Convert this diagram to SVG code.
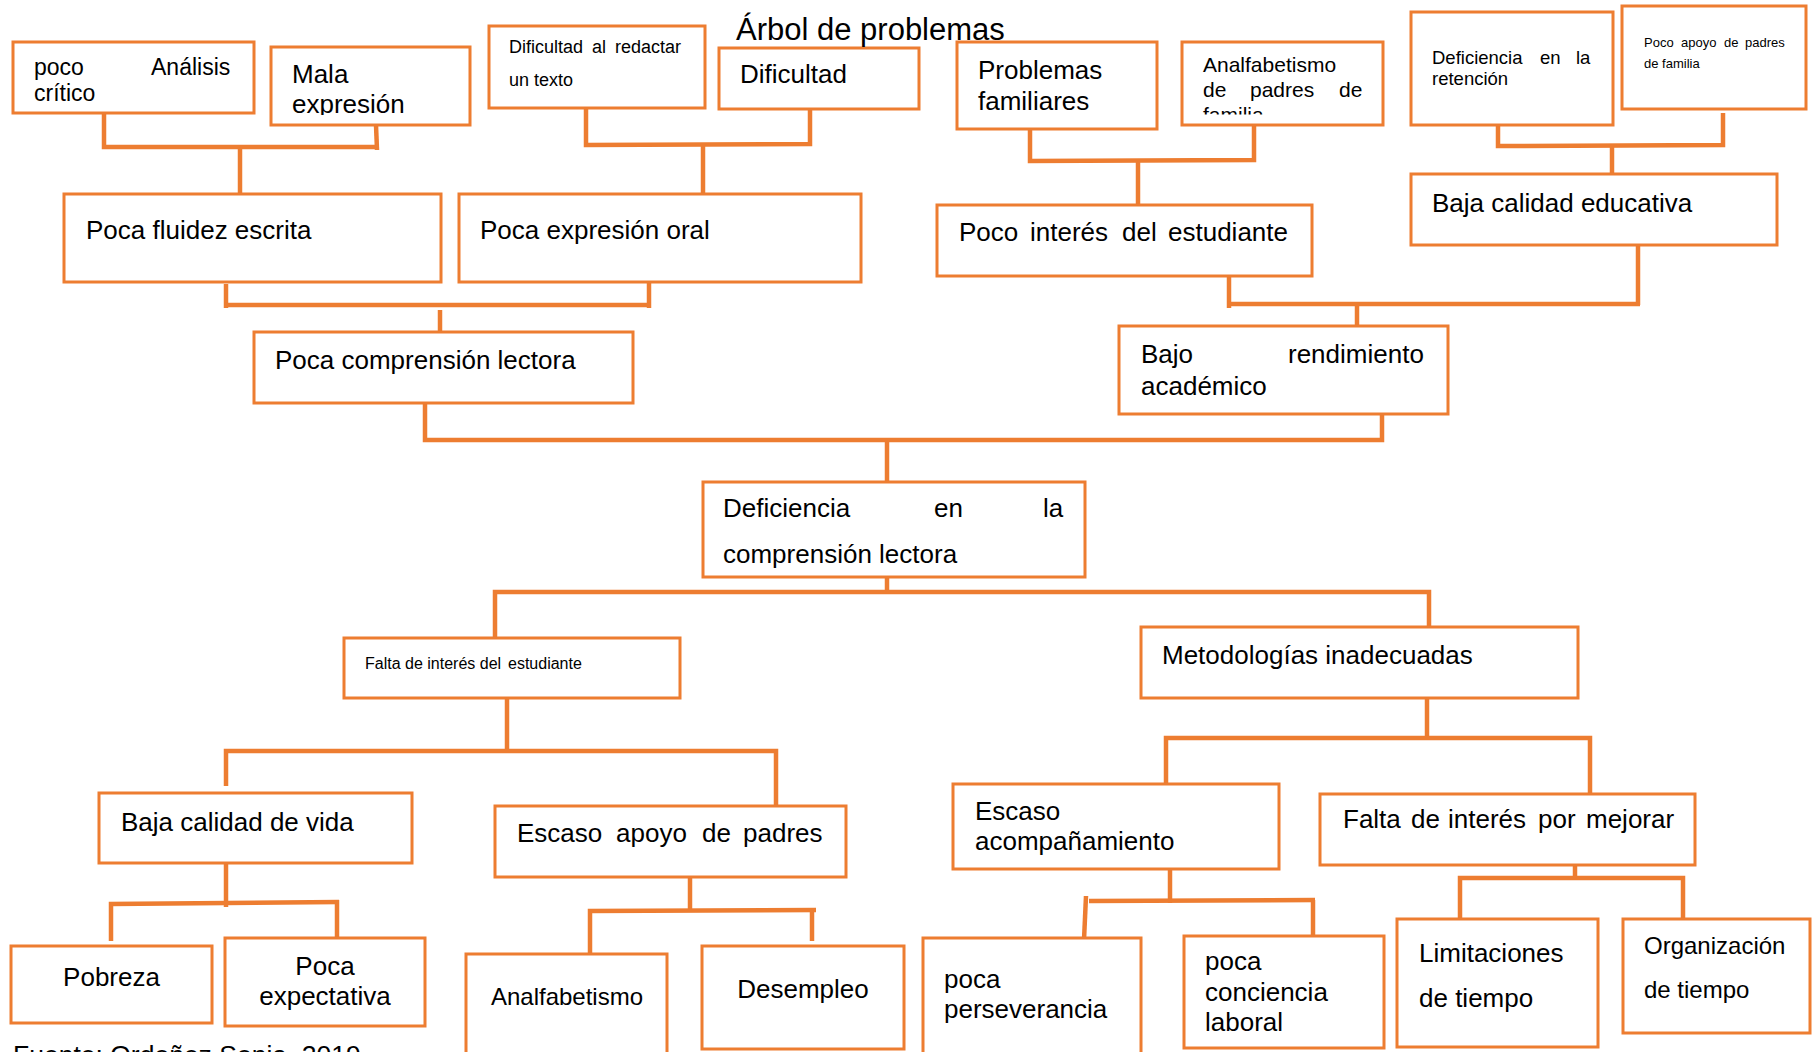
<svg xmlns="http://www.w3.org/2000/svg" width="1815" height="1052" viewBox="0 0 1815 1052">
<style>
.box{fill:#fff;stroke:#ED7D31;stroke-width:3}
.ln{fill:none;stroke:#ED7D31;stroke-width:4.5}
text{font-family:"Liberation Sans",Arial,sans-serif;fill:#000;font-size:26px}
.s23{font-size:23px}
.s21{font-size:21px}
.s18{font-size:18px}
.s185{font-size:18.5px}
.s16{font-size:16px}
.s13{font-size:13px}
.s24{font-size:24px}
.mid{text-anchor:middle}
</style>
<defs>
<clipPath id="clipMala"><rect x="271" y="47" width="199" height="68"/></clipPath>
<clipPath id="clipAnalf"><rect x="1182" y="42" width="201" height="72.5"/></clipPath>
</defs>
<rect width="1815" height="1052" fill="#fff"/>
<g id="connectors">
<path class="ln" d="M104,113 V147 H377"/>
<path class="ln" d="M376,125 L377,150"/>
<path class="ln" d="M240,147 V194"/>
<path class="ln" d="M586,109 V145 L810,144 V109"/>
<path class="ln" d="M703,144 V194"/>
<path class="ln" d="M1030,129 V161 L1254,160 V125"/>
<path class="ln" d="M1138,161 V205"/>
<path class="ln" d="M1498,100 V146 L1723,145 V113"/>
<path class="ln" d="M1612,146 V174"/>
<path class="ln" d="M226,284 V308"/>
<path class="ln" d="M649,282 V308"/>
<path class="ln" d="M224,305 H651"/>
<path class="ln" d="M440,310 V331"/>
<path class="ln" d="M1229,276 V308"/>
<path class="ln" d="M1227,304 H1640"/>
<path class="ln" d="M1638,245 V305"/>
<path class="ln" d="M1357,304 V343"/>
<path class="ln" d="M425,403 V440 H1382 V414"/>
<path class="ln" d="M887,440 V482"/>
<path class="ln" d="M887,577 V592"/>
<path class="ln" d="M495,638 V592 H1429 V627"/>
<path class="ln" d="M507,698 V751"/>
<path class="ln" d="M226,786 V751 H776 V806"/>
<path class="ln" d="M1427,698 V738"/>
<path class="ln" d="M1166,784 V738 H1590 V794"/>
<path class="ln" d="M226,863 V907"/>
<path class="ln" d="M111,941 V904 L339,902"/>
<path class="ln" d="M337,900 V941"/>
<path class="ln" d="M690,877 V911"/>
<path class="ln" d="M590,954 V911 L816,910"/>
<path class="ln" d="M812,910 V941"/>
<path class="ln" d="M1170,869 V903"/>
<path class="ln" d="M1089,901 L1315,900"/>
<path class="ln" d="M1086,896 L1084,940"/>
<path class="ln" d="M1313,900 V937"/>
<path class="ln" d="M1575,860 V878"/>
<path class="ln" d="M1460,919 V878 H1683 V919"/>
</g>
<g id="n-poco-analisis">
<rect class="box" x="13" y="42" width="241" height="71"/>
<text class="s23" y="75"><tspan x="34">poco</tspan><tspan x="151">Análisis</tspan></text>
<text class="s23" x="34" y="101">crítico</text>
</g>
<g id="n-mala-expresion">
<rect class="box" x="271" y="47" width="199" height="78"/>
<g clip-path="url(#clipMala)">
<text x="292" y="83">Mala</text>
<text x="292" y="113">expresión</text>
</g>
</g>
<g id="n-dificultad-redactar">
<rect class="box" x="489" y="26" width="216" height="82"/>
<text class="s18" y="53"><tspan x="509">Dificultad</tspan><tspan x="592">al</tspan><tspan x="615">redactar</tspan></text>
<text class="s18" x="509" y="86">un texto</text>
</g>
<g id="n-dificultad">
<rect class="box" x="719" y="48" width="200" height="61"/>
<text x="740" y="83">Dificultad</text>
</g>
<g id="n-title">
<text x="736" y="40" style="font-size:31px">Árbol de problemas</text>
</g>
<g id="n-problemas-familiares">
<rect class="box" x="957" y="42" width="200" height="87"/>
<text x="978" y="79">Problemas</text>
<text x="978" y="110">familiares</text>
</g>
<g id="n-analfabetismo-padres">
<rect class="box" x="1182" y="42" width="201" height="83"/>
<g clip-path="url(#clipAnalf)">
<text class="s21" x="1203" y="72">Analfabetismo</text>
<text class="s21" y="97"><tspan x="1203">de</tspan><tspan x="1250">padres</tspan><tspan x="1339">de</tspan></text>
<text class="s21" x="1203" y="122">familia</text>
</g>
</g>
<g id="n-deficiencia-retencion">
<rect class="box" x="1411" y="12" width="202" height="113"/>
<text class="s185" y="64"><tspan x="1432">Deficiencia</tspan><tspan x="1540">en</tspan><tspan x="1576">la</tspan></text>
<text class="s185" x="1432" y="85">retención</text>
</g>
<g id="n-poco-apoyo">
<rect class="box" x="1622" y="6" width="184" height="103"/>
<text class="s13" y="47"><tspan x="1644">Poco</tspan><tspan x="1681">apoyo</tspan><tspan x="1724">de</tspan><tspan x="1745">padres</tspan></text>
<text class="s13" x="1644" y="68">de familia</text>
</g>
<g id="n-poca-fluidez">
<rect class="box" x="64" y="194" width="377" height="88"/>
<text x="86" y="239">Poca fluidez escrita</text>
</g>
<g id="n-poca-expresion-oral">
<rect class="box" x="459" y="194" width="402" height="88"/>
<text x="480" y="239">Poca expresión oral</text>
</g>
<g id="n-poco-interes">
<rect class="box" x="937" y="205" width="375" height="71"/>
<text y="241"><tspan x="959">Poco</tspan><tspan x="1030">interés</tspan><tspan x="1122">del</tspan><tspan x="1168">estudiante</tspan></text>
</g>
<g id="n-baja-calidad-educativa">
<rect class="box" x="1411" y="174" width="366" height="71"/>
<text x="1432" y="212">Baja calidad educativa</text>
</g>
<g id="n-poca-comprension">
<rect class="box" x="254" y="332" width="379" height="71"/>
<text x="275" y="369">Poca comprensión lectora</text>
</g>
<g id="n-bajo-rendimiento">
<rect class="box" x="1119" y="326" width="329" height="88"/>
<text y="363"><tspan x="1141">Bajo</tspan><tspan x="1288">rendimiento</tspan></text>
<text x="1141" y="395">académico</text>
</g>
<g id="n-deficiencia-comprension">
<rect class="box" x="703" y="482" width="382" height="95"/>
<text y="517"><tspan x="723">Deficiencia</tspan><tspan x="934">en</tspan><tspan x="1043">la</tspan></text>
<text x="723" y="563">comprensión lectora</text>
</g>
<g id="n-falta-interes-estudiante">
<rect class="box" x="344" y="638" width="336" height="60"/>
<text class="s16" y="669"><tspan x="365">Falta de interés del</tspan><tspan x="508">estudiante</tspan></text>
</g>
<g id="n-metodologias">
<rect class="box" x="1141" y="627" width="437" height="71"/>
<text x="1162" y="664">Metodologías inadecuadas</text>
</g>
<g id="n-baja-calidad-vida">
<rect class="box" x="99" y="793" width="313" height="70"/>
<text x="121" y="831">Baja calidad de vida</text>
</g>
<g id="n-escaso-apoyo">
<rect class="box" x="495" y="806" width="351" height="71"/>
<text y="842"><tspan x="517">Escaso</tspan><tspan x="616">apoyo</tspan><tspan x="702">de</tspan><tspan x="743">padres</tspan></text>
</g>
<g id="n-escaso-acompanamiento">
<rect class="box" x="953" y="784" width="326" height="85"/>
<text x="975" y="820">Escaso</text>
<text x="975" y="850">acompañamiento</text>
</g>
<g id="n-falta-interes-mejorar">
<rect class="box" x="1320" y="794" width="375" height="71"/>
<text y="828"><tspan x="1343">Falta</tspan><tspan x="1411">de</tspan><tspan x="1448">interés</tspan><tspan x="1538">por</tspan><tspan x="1586">mejorar</tspan></text>
</g>
<g id="n-pobreza">
<rect class="box" x="11" y="946" width="201" height="77"/>
<text class="mid" x="111.5" y="986">Pobreza</text>
</g>
<g id="n-poca-expectativa">
<rect class="box" x="225" y="938" width="200" height="88"/>
<text class="mid" x="325" y="975">Poca</text>
<text class="mid" x="325" y="1005">expectativa</text>
</g>
<g id="n-analfabetismo">
<rect class="box" x="466" y="954" width="201" height="120"/>
<text class="mid s24" x="567" y="1005">Analfabetismo</text>
</g>
<g id="n-desempleo">
<rect class="box" x="702" y="946" width="202" height="103"/>
<text class="mid" x="803" y="998">Desempleo</text>
</g>
<g id="n-poca-perseverancia">
<rect class="box" x="923" y="938" width="218" height="130"/>
<text x="944" y="988">poca</text>
<text x="944" y="1018">perseverancia</text>
</g>
<g id="n-poca-conciencia">
<rect class="box" x="1184" y="936" width="200" height="112"/>
<text x="1205" y="970">poca</text>
<text x="1205" y="1001">conciencia</text>
<text x="1205" y="1031">laboral</text>
</g>
<g id="n-limitaciones">
<rect class="box" x="1397" y="919" width="201" height="128"/>
<text x="1419" y="962">Limitaciones</text>
<text x="1419" y="1007">de tiempo</text>
</g>
<g id="n-organizacion">
<rect class="box" x="1623" y="919" width="187" height="114"/>
<text class="s24" x="1644" y="954">Organización</text>
<text class="s24" x="1644" y="998">de tiempo</text>
</g>
<g id="n-fuente">
<text x="13" y="1064" style="font-size:26.5px">Fuente: Ordoñez Sonia, 2019</text>
</g>
</svg>
